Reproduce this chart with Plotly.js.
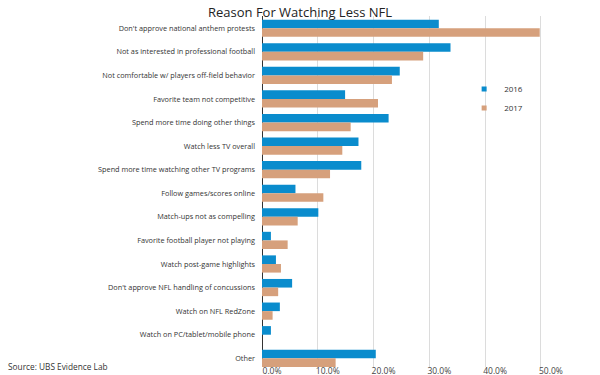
<!DOCTYPE html>
<html>
<head>
<meta charset="utf-8">
<script src="https://cdn.plot.ly/plotly-3.0.1.min.js"></script>
<style>html,body{margin:0;padding:0;background:#fff}#chart{width:600px;height:375px}</style>
</head>
<body>
<div id="chart"></div>
<script>
var categories = [
  "Don't approve national anthem protests",
  "Not as interested in professional football",
  "Not comfortable w/ players off-field behavior",
  "Favorite team not competitive",
  "Spend more time doing other things",
  "Watch less TV overall",
  "Spend more time watching other TV programs",
  "Follow games/scores online",
  "Match-ups not as compelling",
  "Favorite football player not playing",
  "Watch post-game highlights",
  "Don't approve NFL handling of concussions",
  "Watch on NFL RedZone",
  "Watch on PC/tablet/mobile phone",
  "Other"
];
var values2016 = [31.7, 33.8, 24.7, 14.9, 22.7, 17.3, 17.8, 6.0, 10.1, 1.6, 2.5, 5.4, 3.2, 1.6, 20.4];
var values2017 = [49.8, 28.9, 23.3, 20.8, 15.9, 14.4, 12.2, 11.0, 6.4, 4.6, 3.4, 2.9, 1.9, 0, 13.2];
var seriesNames = ["2016", "2017"];
var tickValues = [0, 10, 20, 30, 40, 50];
var tickLabels = ["0.0%", "10.0%", "20.0%", "30.0%", "40.0%", "50.0%"];

var colors = ["#0a8ccd", "#d6a07c"];
var idx = categories.map(function(c, i){ return i; });

var traces = [
  {type: "bar", orientation: "h", name: seriesNames[0], x: values2016, y: idx,
   marker: {color: colors[0]}, showlegend: false, hoverinfo: "x+y"},
  {type: "bar", orientation: "h", name: seriesNames[1], x: values2017, y: idx,
   marker: {color: colors[1]}, showlegend: false, hoverinfo: "x+y"},
  {type: "scatter", mode: "markers", name: seriesNames[0], x: [null], y: [null],
   marker: {color: colors[0], symbol: "square", size: 5}},
  {type: "scatter", mode: "markers", name: seriesNames[1], x: [null], y: [null],
   marker: {color: colors[1], symbol: "square", size: 5}}
];

var layout = {
  width: 600, height: 375,
  margin: {l: 262, r: 48, t: 16, b: 8, pad: 0},
  paper_bgcolor: "#fff", plot_bgcolor: "#fff",
  font: {family: "Open Sans, sans-serif", color: "#333"},
  title: {text: "Reason For Watching Less NFL", x: 0.5, xanchor: "center",
          y: 0.98, yanchor: "top", yref: "container",
          font: {size: 13, color: "#222", family: "Open Sans, sans-serif"}},
  barmode: "group", bargap: 0.27, bargroupgap: 0,
  xaxis: {range: [0, 52], tickvals: tickValues, ticktext: tickLabels,
          showgrid: true, gridcolor: "#dcdcdc", gridwidth: 1,
          zeroline: true, zerolinecolor: "#333", zerolinewidth: 1,
          showline: false, ticks: "", ticklabelshift: 10, ticklabelstandoff: -3,
          tickfont: {size: 8.5, color: "#444"}, fixedrange: true},
  yaxis: {range: [14.37, -0.52], tickvals: idx, ticktext: categories,
          showgrid: false, zeroline: false, showline: false, ticks: "",
          ticklabelstandoff: 6,
          tickfont: {size: 7.3, color: "#333"}, fixedrange: true},
  legend: {x: 0.697, y: 0.833, xanchor: "left", yanchor: "top",
           font: {size: 8, color: "#333"}, bgcolor: "rgba(0,0,0,0)",
           tracegroupgap: 0, itemwidth: 30},
  annotations: [{text: "Source: UBS Evidence Lab", xref: "paper", yref: "paper",
                 x: -256/290, xanchor: "left", y: 0, yanchor: "middle", yshift: 1,
                 showarrow: false, font: {size: 8.3, color: "#333"}}]
};

Plotly.newPlot("chart", traces, layout, {displayModeBar: false, staticPlot: true});
</script>
</body>
</html>
